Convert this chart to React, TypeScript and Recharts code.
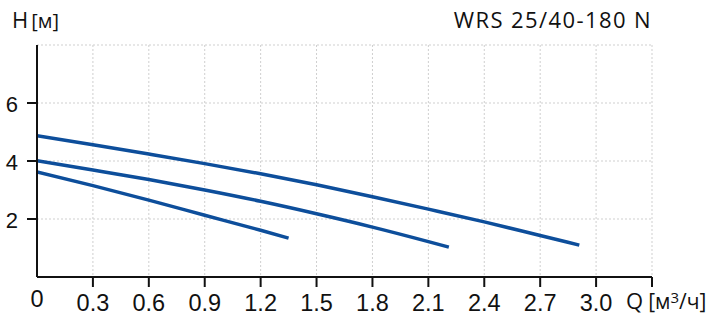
import { LineChart, Line, XAxis, YAxis, CartesianGrid } from 'recharts';

const lineColor = "#0d4e9b";

// pump curves, head H [м] over flow Q [м³/ч]
const speed3 = [
  { q: 0, h: 4.87 }, { q: 0.3, h: 4.56 }, { q: 0.6, h: 4.24 }, { q: 0.9, h: 3.91 },
  { q: 1.2, h: 3.56 }, { q: 1.5, h: 3.18 }, { q: 1.8, h: 2.77 }, { q: 2.1, h: 2.34 },
  { q: 2.4, h: 1.9 }, { q: 2.7, h: 1.43 }, { q: 2.91, h: 1.1 },
];
const speed2 = [
  { q: 0, h: 4.01 }, { q: 0.3, h: 3.69 }, { q: 0.6, h: 3.36 }, { q: 0.9, h: 3.0 },
  { q: 1.2, h: 2.61 }, { q: 1.5, h: 2.18 }, { q: 1.8, h: 1.72 }, { q: 2.1, h: 1.22 },
  { q: 2.21, h: 1.03 },
];
const speed1 = [
  { q: 0, h: 3.62 }, { q: 0.3, h: 3.15 }, { q: 0.6, h: 2.65 }, { q: 0.9, h: 2.13 },
  { q: 1.2, h: 1.61 }, { q: 1.35, h: 1.34 },
];

const qTicks = [0, 0.3, 0.6, 0.9, 1.2, 1.5, 1.8, 2.1, 2.4, 2.7, 3.0, 3.3];
const hTicks = [0, 2, 4, 6, 8];

const tickFont = "'Liberation Sans', Arial, sans-serif";
const titleFont = "'Open Sans', sans-serif";

const XTick = ({ x, y, payload }: any) => {
  const v = payload.value;
  const last = v > 3.2;
  return (
    <g>
      {v > 0 && <line x1={x} x2={x} y1={y} y2={y + 10} stroke="#111" strokeWidth={2} />}
      {!last && (
        <text x={x} y={y + (v === 0 ? 30 : 34)} textAnchor="middle" fontSize={23.5} fontFamily={tickFont} fill="#111">
          {v === 0 ? '0' : v.toFixed(1)}
        </text>
      )}
    </g>
  );
};

const YTick = ({ x, y, payload }: any) => {
  const v = payload.value;
  if (v === 0 || v === 8) return <g />;
  return (
    <g>
      <line x1={x - 10} x2={x} y1={y} y2={y} stroke="#111" strokeWidth={2} />
      <text x={x - 19} y={y + 9} textAnchor="end" fontSize={22} fontFamily={tickFont} fill="#111">{v}</text>
    </g>
  );
};

export default function App() {
  return (
    <div style={{ position: 'absolute', left: 0, top: 0, width: 717, height: 315, background: '#fff' }}>
      <LineChart width={717} height={315} margin={{ top: 45, right: 65, bottom: 0, left: 0 }}>
        <CartesianGrid stroke="#cfcfcf" strokeDasharray="2 2" />
        <XAxis dataKey="q" type="number" domain={[0, 3.3]} ticks={qTicks} interval={0} height={38}
          tickSize={0} tickMargin={0} tickLine={false} axisLine={{ stroke: '#111', strokeWidth: 2 }}
          tick={<XTick />} allowDataOverflow />
        <YAxis type="number" domain={[0, 8]} ticks={hTicks} interval={0} width={37}
          tickSize={0} tickMargin={0} tickLine={false} axisLine={{ stroke: '#111', strokeWidth: 2 }}
          tick={<YTick />} allowDataOverflow />
        <Line data={speed3} dataKey="h" type="monotone" stroke={lineColor} strokeWidth={3.5} dot={false} isAnimationActive={false} />
        <Line data={speed2} dataKey="h" type="monotone" stroke={lineColor} strokeWidth={3.5} dot={false} isAnimationActive={false} />
        <Line data={speed1} dataKey="h" type="monotone" stroke={lineColor} strokeWidth={3.5} dot={false} isAnimationActive={false} />
      </LineChart>
      <svg width={717} height={315} style={{ position: 'absolute', left: 0, top: 0, pointerEvents: 'none' }}>
        <text x={12} y={28} fontSize={22} fontFamily={titleFont} fill="#111">
          H<tspan dx={3} fontSize={20}>[м]</tspan>
        </text>
        <text x={652} y={28} textAnchor="end" fontSize={22} fontFamily={titleFont} fill="#111" letterSpacing={1.4}>
          WRS 25/40-180 N
        </text>
        <text x={626} y={309} fontSize={22} fontFamily={titleFont} fill="#111">
          Q<tspan dx={5} fontSize={21}>[м</tspan><tspan fontSize={15} dy={-6}>3</tspan><tspan fontSize={21} dy={6}>/ч]</tspan>
        </text>
      </svg>
    </div>
  );
}
